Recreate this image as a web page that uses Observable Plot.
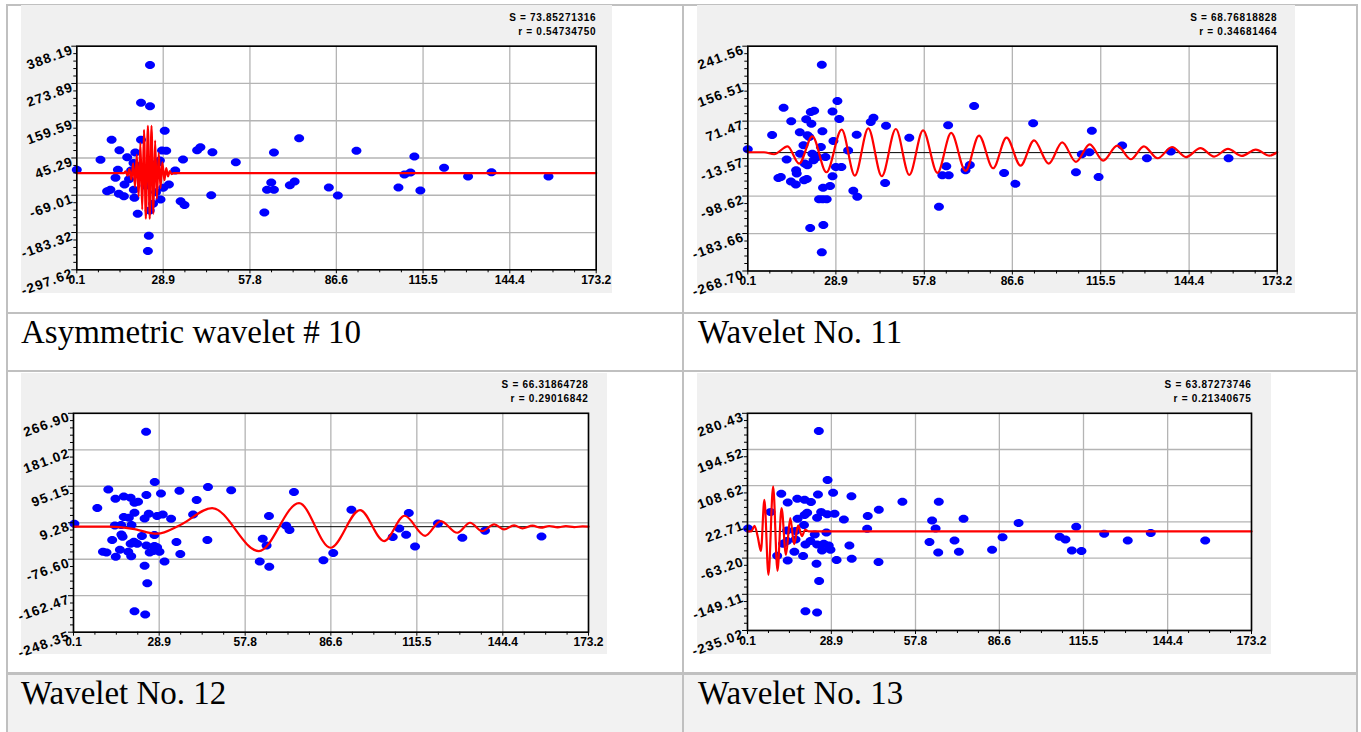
<!DOCTYPE html>
<html><head><meta charset="utf-8">
<script src="https://cdn.jsdelivr.net/npm/d3@7"></script>
<script src="https://cdn.jsdelivr.net/npm/@observablehq/plot@0.6"></script>
<style>
body{margin:0;width:1361px;height:732px;overflow:hidden;background:#fff;position:relative;}
.line{position:absolute;background:#c0c0c0;}
.cap{position:absolute;font-family:"Liberation Serif","Times New Roman",serif;font-size:33px;color:#000;white-space:nowrap;line-height:33px;}
.panel{position:absolute;}
.panel svg{display:block;}
g[font-size="13.5"] text{letter-spacing:1.2px;}
g[font-size="10"] text{letter-spacing:0.7px;}
</style></head><body>
<div class="line" style="left:6px;top:4px;width:1352px;height:2px"></div>
<div class="line" style="left:6px;top:4px;width:2px;height:728px"></div>
<div class="line" style="left:682px;top:4px;width:2px;height:728px"></div>
<div class="line" style="left:1356px;top:4px;width:2px;height:728px"></div>
<div class="line" style="left:6px;top:312px;width:1352px;height:2px"></div>
<div class="line" style="left:6px;top:370px;width:1352px;height:2px"></div>
<div style="position:absolute;left:8px;top:675px;width:674px;height:57px;background:#f2f2f2"></div>
<div style="position:absolute;left:684px;top:675px;width:672px;height:57px;background:#f2f2f2"></div>
<div class="line" style="left:6px;top:672px;width:1352px;height:3px"></div>
<div id="p1" class="panel" style="left:21px;top:5px"></div>
<div id="p2" class="panel" style="left:697px;top:5px"></div>
<div id="p3" class="panel" style="left:21px;top:372.5px"></div>
<div id="p4" class="panel" style="left:697px;top:372.5px"></div>
<div id="c1" class="cap" style="left:21px;top:315.5px"></div>
<div id="c2" class="cap" style="left:698px;top:315.5px"></div>
<div id="c3" class="cap" style="left:21px;top:677px"></div>
<div id="c4" class="cap" style="left:698px;top:677px"></div>
<script>
// ---------- data ----------
const captions = ["Asymmetric wavelet # 10", "Wavelet No. 11", "Wavelet No. 12", "Wavelet No. 13"];
const xTicks = [0.1, 28.9, 57.8, 86.6, 115.5, 144.4, 173.2];

const stats10 = ["S = 73.85271316", "r = 0.54734750"];
const stats11 = ["S = 68.76818828", "r = 0.34681464"];
const stats12 = ["S = 66.31864728", "r = 0.29016842"];
const stats13 = ["S = 63.87273746", "r = 0.21340675"];

const yTicks10 = [388.19, 273.89, 159.59, 45.29, -69.01, -183.32, -297.62];
const yTicks11 = [241.56, 156.51, 71.47, -13.57, -98.62, -183.66, -268.70];
const yTicks12 = [266.90, 181.02, 95.15, 9.28, -76.60, -162.47, -248.35];
const yTicks13 = [280.43, 194.52, 108.62, 22.71, -63.20, -149.11, -235.02];

const points10 = [[0.1,8.9],[8.0,39.6],[11.7,100.9],[14.3,69.2],[10.2,-56.5],[11.3,-52.4],[13.0,-15.6],[13.8,8.9],[14.1,-64.7],[16.0,-36.1],[15.8,-71.9],[16.9,47.7],[18.2,6.8],[19.6,62],[19.1,-52.4],[19.3,-77],[20.4,-126],[21.5,214.4],[24.5,204],[24.5,330.9],[21.5,100.9],[24.1,-193.5],[23.8,-239.6],[24.4,-115.8],[29.4,128.5],[28.5,68.2],[29.9,67.2],[27.8,37.5],[28.0,-82.1],[28.9,-46.3],[30.8,-36.1],[32.9,6.8],[35.5,40.6],[34.7,-87.2],[36.0,-98.5],[40.2,69.2],[41.3,78.4],[45.3,63],[44.9,-68.8],[53.1,32.4],[62.6,-122],[64.9,-30],[63.5,-52.4],[65.8,-52.4],[65.8,62],[71.1,-38.1],[72.7,-27],[74.2,106],[84.1,-45.3],[87.1,-69.8],[93.3,67.2],[107.3,-45.3],[109.3,-5.4],[111.3,0.7],[112.6,49.8],[114.6,-54.5],[122.5,15.0],[130.5,-11.6],[138.3,1.7],[157.3,-11.6],[19.0,30],[17.5,-20],[23.0,-40],[26.5,-60],[27.0,30],[22.4,-10],[25.5,-95],[20.5,20]];
const waveX10 = [0.1,15.8,16.4,17.0,17.6,18.3,18.9,19.5,20.1,20.7,21.3,21.9,22.5,23.1,23.8,24.4,25.0,25.6,26.2,26.8,27.4,28.0,28.6,29.3,29.9,30.5,31.1,31.7,32.4,173.2];
const waveY10 = [-1,-1,4,-9,11,-21,29,-43,55,-73,91,-113,132,-141,144,-141,144,-126,99,-81,61,-47,32,-23,14,-11,5,-4,-1,-1];

const points11 = [[0.1,7.6],[8.05,40.1],[11.8,101.9],[14.3,71.0],[12.8,-15.8],[10.1,-57.4],[10.9,-55.1],[14.2,-65.6],[15.8,-72.4],[15.9,-40],[16.1,-47.5],[17.1,46.1],[17.2,-2.3],[18.5,-62.6],[19.4,-59.6],[19.2,75.5],[20.7,92.1],[21.8,95.1],[20.9,65.7],[19.6,39.3],[20.2,35.5],[18.3,16.6],[18.7,-24.9],[19.6,-28.7],[21.2,-2.3],[21.6,-17.3],[22.9,-9.8],[24.0,12.9],[24.5,48.3],[24.3,199.3],[24.7,-80],[23.4,-105.7],[24.6,-105.7],[25.9,-105.7],[24.8,-164.5],[20.5,-171.3],[24.3,-226.4],[25.5,-9.8],[27.0,-75.5],[27.8,93.6],[28.1,26.4],[27.8,-53.6],[29.4,117],[30.0,76.3],[28.9,-32.4],[30.7,-32.4],[32.9,4.6],[34.6,-86.8],[35.9,-100.4],[35.7,40.8],[40.3,69.5],[41.2,79.3],[45.3,61.2],[45.0,-68.7],[52.9,34],[62.6,-123],[63.7,-51.3],[65.0,-30.9],[65.8,-51.3],[65.6,61.9],[71.3,-40],[72.7,-27.9],[74.1,105.7],[83.9,-46],[87.6,-70.9],[93.4,66.4],[107.4,-44.5],[109.3,-3.8],[111.8,0.8],[112.6,49.8],[114.8,-55.1],[122.5,15.9],[130.6,-12.8],[138.4,2.3],[157.3,-12.8]];
const waveX11 = [0.1,5.4,8.7,13.1,16.9,21.2,25.8,30.8,35.1,39.5,43.9,48.5,52.9,57.4,62.1,66.6,71.3,75.7,80.3,84.7,89.3,93.7,98.5,102.9,107.4,111.9,116.3,120.9,125.3,129.6,134.1,138.8,143.4,148.1,152.6,157.1,161.6,166.2,170.7,173.2];
const waveY11 = [0.8,0.8,-3.7,14.4,-24.9,37.0,-44.5,52.1,-52.1,55.1,-53.6,53.6,-50.6,50.6,-46.0,44.6,-41.5,38.5,-35.5,34.0,-29.5,27.9,-24.9,23.4,-21.1,18.9,-18.1,15.9,-15.1,14.4,-12.8,12.8,-10.0,10.0,-8.9,8.4,-7.5,6.9,-6.8,0.8];

const points12 = [[0.4,6.9],[8.1,43.8],[11.8,87.8],[14.2,65.8],[17.0,71.3],[19.3,68.2],[20.6,56.4],[21.8,58.8],[24.6,74.5],[24.5,223.7],[27.4,105.1],[29.5,78.4],[35.7,84.7],[41.5,62.7],[45.3,93.3],[53.1,85.5],[74.2,81.6],[17.0,22.6],[18.7,21.1],[19.6,3.8],[20.6,32.8],[24.0,19.5],[25.4,30.5],[28.2,25.0],[30.1,28.9],[32.9,18.7],[40.3,28.9],[14.0,3.0],[16.1,3.8],[16.2,-18.2],[16.6,-23.7],[13.1,-31.6],[10.0,-59.1],[11.2,-60.6],[14.3,-70.8],[15.7,-54.3],[18.5,-59.1],[19.5,-69.3],[19.3,-40.2],[20.4,-35.4],[21.5,-40.2],[23.1,-22.2],[24.6,-44.1],[27.3,-19.8],[27.3,-45.7],[28.2,-48.1],[25.7,-60.6],[26.9,-57.5],[29.0,-59.1],[30.7,-81.8],[34.7,-36.3],[36.0,-64.5],[45.1,-31.6],[24.0,-92.0],[24.9,-132.9],[20.6,-198.9],[24.2,-206.7],[63.7,-28.4],[65.0,-44.1],[62.7,-81.8],[65.9,-94.4],[65.8,25.0],[71.6,2.2],[72.7,-8.0],[84.1,-78.7],[87.4,-62.2],[93.5,39.9],[107.4,-24.5],[109.6,-4.1],[111.9,-19.0],[112.8,32.1],[114.9,-46.5],[122.6,7.7],[130.8,-26.1],[138.4,-9.6],[157.4,-22.9]];
const waveX12 = [0.1,12,20,28.2,36,46.7,62.4,75.9,86.5,96.4,104.5,111.4,118.3,123.5,129.1,133.4,137.5,141.5,144.8,148.2,151.0,154.4,157.2,160.0,162.8,165.6,168.4,171.2,173.2];
const waveY12 = [0,0,-5,-16.5,4,43.8,-57.5,55.6,-49.6,39.1,-33.9,25.8,-21.4,13.2,-14.3,9.3,-10.4,5.4,-6.4,3.1,-4.1,2.4,-2.4,1.6,-1.6,1.2,-1.0,0.8,0];

const points13 = [[0.3,7.3],[8.0,46.1],[11.7,89.6],[13.9,69.0],[17.2,77.7],[19.7,75.4],[21.9,69.8],[24.3,88.0],[24.6,238.5],[27.6,122.1],[29.5,92.0],[35.8,83.3],[41.4,36.6],[45.2,51.6],[53.3,70.6],[65.8,70.6],[63.5,26.3],[64.7,7.3],[74.3,30.2],[17.3,30.2],[19.7,38.9],[20.6,44.5],[24.0,32.6],[25.4,46.1],[27.5,40.6],[30.0,42.1],[33.2,28.6],[41.2,6.5],[13.7,2.5],[16.6,0.9],[19.5,15.2],[16.6,-18.9],[13.7,-22.8],[12.3,-29.2],[16.2,-48.2],[19.2,-58.5],[10.3,-57.7],[13.9,-68.7],[20.0,-30.8],[21.7,-22.8],[24.0,-30.8],[26.3,-29.2],[27.2,-2.7],[25.7,-45.0],[28.6,-43.5],[28.0,-33.1],[23.2,-7.1],[23.8,-76.6],[30.7,-68.0],[35.1,-33.1],[35.9,-64.8],[45.1,-72.7],[24.7,-117.8],[20.0,-189.1],[24.0,-192.3],[62.6,-25.2],[65.6,-49.8],[71.2,-21.2],[72.7,-48.2],[84.1,-43.5],[87.7,-13.6],[93.2,20.0],[107.3,-12.4],[109.3,-18.9],[113.0,11.3],[111.5,-45.0],[114.8,-46.6],[122.6,-5.4],[130.7,-21.2],[138.6,-3.8],[157.3,-21.2]];
const waveX13 = [0.1,1.4,2.5,3.6,4.7,5.9,7.3,8.9,10.4,11.8,13.3,14.8,16.1,17.5,18.8,19.9,21.2,173.2];
const waveY13 = [0,0,13.5,-11.9,-45.9,75.2,-102.9,106.9,-93.4,55.4,-55.4,31.7,-30.1,14.3,-11.1,4.0,0,0];

// ---------- drawing ----------
const ellipse = {
  draw(ctx) {
    const rx = 5, ry = 4, k = 0.5523;
    ctx.moveTo(rx, 0);
    ctx.bezierCurveTo(rx, ry * k, rx * k, ry, 0, ry);
    ctx.bezierCurveTo(-rx * k, ry, -rx, ry * k, -rx, 0);
    ctx.bezierCurveTo(-rx, -ry * k, -rx * k, -ry, 0, -ry);
    ctx.bezierCurveTo(rx * k, -ry, rx, -ry * k, rx, 0);
    ctx.closePath();
  }
};

function subdivide(t, n) {
  const out = [];
  for (let i = 0; i < t.length - 1; i++)
    for (let k = 1; k < n; k++) out.push(t[i] + (t[i + 1] - t[i]) * k / n);
  return out;
}

function panel(points, waveX, waveY, yTicks, stats, w, h, m) {
  const dots = points.map(([x, y]) => ({x, y}));
  const wave = waveX.map((x, i) => ({x, y: waveY[i]}));
  const yMinor = subdivide(yTicks, 5);
  const xMinor = subdivide(xTicks, 4);
  const lab = {fontWeight: "bold", fill: "black"};
  return Plot.plot({
    width: w, height: h,
    marginLeft: m[0], marginRight: m[1], marginTop: m[2], marginBottom: m[3],
    style: {background: "#f0f0f0", overflow: "visible", fontFamily: "'Liberation Sans', Arial, sans-serif"},
    x: {domain: [xTicks[0], xTicks[xTicks.length - 1]]},
    y: {domain: [yTicks[yTicks.length - 1], yTicks[0]]},
    marks: [
      Plot.frame({fill: "white", stroke: null}),
      Plot.gridX(xTicks, {stroke: "#b4b4b4", strokeOpacity: 1, strokeWidth: 1.3}),
      Plot.gridY(yTicks, {stroke: "#b4b4b4", strokeOpacity: 1, strokeWidth: 1.3}),
      Plot.ruleY([0], {stroke: "black", strokeWidth: 1}),
      Plot.dot(dots, {x: "x", y: "y", symbol: ellipse, fill: "#0000ff", stroke: "none"}),
      Plot.line(wave, {x: "x", y: "y", stroke: "#ff0000", strokeWidth: 2.2, curve: "monotone-x"}),
      Plot.frame({stroke: "black", strokeWidth: 1.6}),
      Plot.axisX(xTicks, {tickSize: 4, fill: "none", label: null, stroke: "black", tickFormat: () => ""}),
      Plot.axisX(xMinor, {tickSize: 3, fill: "none", label: null, stroke: "black", tickFormat: () => ""}),
      Plot.axisY(yTicks, {tickSize: 5, fill: "none", label: null, stroke: "black", tickFormat: () => ""}),
      Plot.axisY(yMinor, {tickSize: 3, fill: "none", label: null, stroke: "black", tickFormat: () => ""}),
      Plot.text(xTicks, {x: d => d, text: d => d.toFixed(1), frameAnchor: "bottom", dy: 14, fontSize: 12, ...lab}),
      Plot.text(yTicks, {y: d => d, text: d => d.toFixed(2), frameAnchor: "left", dx: -4, dy: 3, rotate: -20, textAnchor: "end", fontSize: 13.5, ...lab}),
      Plot.text([stats[0]], {text: d => d, frameAnchor: "top-right", dy: -32, textAnchor: "end", fontSize: 10, ...lab}),
      Plot.text([stats[1]], {text: d => d, frameAnchor: "top-right", dy: -18.5, textAnchor: "end", fontSize: 10, ...lab})
    ]
  });
}

document.getElementById("p1").append(panel(points10, waveX10, waveY10, yTicks10, stats10, 591, 288, [55.3, 16.3, 40.7, 23.7]));
document.getElementById("p2").append(panel(points11, waveX11, waveY11, yTicks11, stats11, 598, 288, [50.3, 18.3, 40.7, 22.5]));
document.getElementById("p3").append(panel(points12, waveX12, waveY12, yTicks12, stats12, 586, 281, [52, 19, 39.8, 22.3]));
document.getElementById("p4").append(panel(points13, waveX13, waveY13, yTicks13, stats13, 574, 281, [50, 20, 39.8, 24]));
["c1", "c2", "c3", "c4"].forEach((id, i) => document.getElementById(id).textContent = captions[i]);
</script>
</body></html>
